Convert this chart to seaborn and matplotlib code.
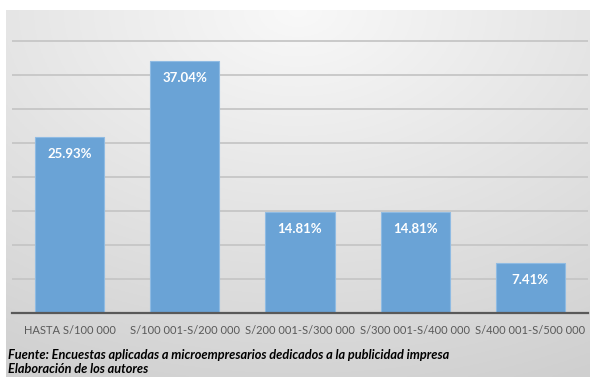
import numpy as np
import pandas as pd
import matplotlib
matplotlib.use("Agg")
import matplotlib.pyplot as plt
import seaborn as sns

categories = ["HASTA S/100 000", "S/100 001-S/200 000", "S/200 001-S/300 000",
              "S/300 001-S/400 000", "S/400 001-S/500 000"]
values = [25.93, 37.04, 14.81, 14.81, 7.41]
value_labels = ["25.93%", "37.04%", "14.81%", "14.81%", "7.41%"]
footnote_lines = ["Fuente: Encuestas aplicadas a microempresarios dedicados a la publicidad impresa",
                  "Elaboración de los autores"]

sns.set_theme(style="white")
plt.rcParams['font.family'] = ['Lato', 'DejaVu Sans']

W, H = 590, 377
fig = plt.figure(figsize=(W / 100, H / 100), dpi=100)
fig.patch.set_facecolor("white")

# gradient background
bg = fig.add_axes([6 / W, 0, 1 - 6 / W, (H - 10) / H])
ny, nx = 200, 300
yy, xx = np.mgrid[0:1:ny * 1j, 0:1:nx * 1j]
r = np.sqrt(((xx - 0.5) * 1.0) ** 2 + (yy * 0.95) ** 2)
r = np.clip(r / 1.05, 0, 1)
shade = 0.975 - 0.16 * r
img = np.dstack([shade, shade, shade])
bg.imshow(img, aspect="auto", extent=[0, 1, 1, 0])
bg.set_axis_off()

df = pd.DataFrame({"cat": categories, "val": values})
base_px = 313
px_per = 6.8
ymax = 42.0
ax = fig.add_axes([12 / W, (H - base_px) / H, (588 - 12) / W, ymax * px_per / H])
ax.patch.set_alpha(0)
sns.barplot(data=df, x="cat", y="val", color="#6aa3d6", width=0.6, ax=ax,
            edgecolor="#8fbbe3", linewidth=0.8, saturation=1)
ax.set_ylim(0, ymax)
ax.set_xlim(-0.5, len(categories) - 0.5)
ax.set_yticks(np.arange(5, 41, 5))
ax.yaxis.grid(True, color="#c6c6c6", linewidth=1.3)
ax.set_axisbelow(True)
ax.tick_params(axis="y", left=False, labelleft=False)
ax.tick_params(axis="x", bottom=False, labelsize=8.0, labelcolor="#595959", pad=2.5)
ax.set_xlabel("")
ax.set_ylabel("")
for s in ["top", "right", "left"]:
    ax.spines[s].set_visible(False)
ax.spines["bottom"].set_color("#595959")
ax.spines["bottom"].set_linewidth(1.6)

for i, (v, lab) in enumerate(zip(values, value_labels)):
    ax.annotate(lab, (i, v), xytext=(0, -17), textcoords="offset pixels",
                ha="center", va="center", color="white", fontweight="bold", fontsize=9.5)

fig.text(8 / W, 1 - 355 / H, footnote_lines[0], fontsize=9.2, fontweight="bold",
         fontstyle="italic", color="black", va="center", ha="left")
fig.text(8 / W, 1 - 369 / H, footnote_lines[1], fontsize=9.2, fontweight="bold",
         fontstyle="italic", color="black", va="center", ha="left")

fig.savefig("out.png", dpi=100)
